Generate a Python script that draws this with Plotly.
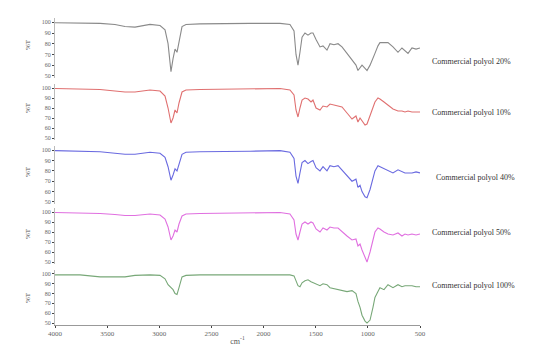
import plotly.graph_objects as go
from plotly.subplots import make_subplots

wavenumber = [4000, 3760, 3568, 3425, 3329, 3233, 3089, 2993, 2945, 2916, 2888, 2868, 2849, 2830, 2811, 2782, 2744,
              2610, 2130, 1842, 1747, 1708, 1689, 1670, 1651, 1631, 1603, 1574, 1545, 1526, 1497, 1459, 1430, 1392,
              1363, 1325, 1286, 1248, 1200, 1152, 1114, 1095, 1075, 1056, 1027, 1008, 979, 951, 932, 903, 884, 845,
              807, 759, 711, 673, 644, 615, 577, 538, 500]

t_20 = [99.5, 99.5, 99, 98, 96, 95.5, 98, 97, 93, 80, 54, 66, 75, 72, 82, 96, 98, 98.5, 99, 99, 98, 92, 70, 60,
        72, 86, 90, 88, 90, 90, 84, 77, 78, 74, 80, 79, 80, 77, 71, 65, 60, 55, 58, 60, 57, 55, 60, 66, 71, 78, 81,
        81, 81, 77, 72, 76, 73, 71, 76, 75, 76]
t_10 = [99.5, 99, 98.5, 97, 96, 96, 98, 97, 92, 80, 65, 70, 78, 75, 85, 96, 98, 98.5, 99, 99.5, 98, 93, 78, 71,
        80, 88, 90, 89, 86, 88, 80, 78, 82, 81, 84, 83, 82, 81, 75, 69, 72, 66, 70, 67, 63, 64, 72, 80, 86, 90, 89,
        86, 83, 79, 77, 77, 76, 77, 76, 76, 76]
t_40 = [99.5, 99, 98.5, 97, 96, 96, 98, 97, 93, 84, 71, 76, 82, 80, 87, 96, 98, 98.5, 99, 99.5, 98, 92, 75, 68,
        78, 88, 90, 87, 89, 90, 83, 80, 84, 80, 85, 84, 85, 81, 76, 70, 72, 64, 66, 60, 55, 54, 62, 72, 80, 85, 84,
        82, 80, 78, 81, 79, 78, 78, 78, 79, 78]
t_50 = [99.5, 99, 98.5, 97.5, 96.5, 96.5, 98, 97, 93, 85, 72, 76, 82, 80, 88, 96, 98, 98.5, 99, 99.5, 98, 92, 78,
        72, 80, 88, 90, 88, 90, 89, 83, 80, 84, 82, 85, 84, 84, 80, 76, 72, 73, 66, 68, 62, 55, 50, 60, 72, 80, 84,
        83, 80, 78, 77, 79, 76, 78, 77, 78, 77, 78]
t_100 = [99, 99, 97, 97, 97, 98.5, 99, 98.5, 95, 89, 86, 84, 80, 79, 86, 97, 98.5, 99, 99, 99, 99, 98, 93, 88,
         87, 91, 93, 94, 92, 91, 90, 88, 90, 89, 86, 85, 84, 83, 82, 83, 80, 72, 66, 58, 52, 50, 53, 66, 76, 82, 86,
         84, 89, 86, 89, 87, 88, 88, 88, 87, 87]

series = [t_20, t_10, t_40, t_50, t_100]
labels = ["Commercial polyol 20%", "Commercial polyol 10%", "Commercial polyol 40%",
          "Commercial polyol 50%", "Commercial polyol 100%"]
colors = ["#8a8a8a", "#e07070", "#6a6ae0", "#e070e0", "#78a878"]
x_ticks = [4000, 3500, 3000, 2500, 2000, 1500, 1000, 500]
y_ticks = [100, 90, 80, 70, 60, 50]

W, H = 534, 347
ML, MR, MT, MB = 55, 114, 18, 22
PH = H - MT - MB
PW = W - ML - MR

# panel pixel extents (top, bottom)
panels = [(18, 78), (84, 140), (146, 204), (208, 264), (270, 325)]
label_y = [62, 112, 177, 232, 285]
label_x = [430, 430, 434, 430, 430]
pct_y = [45, 108, 172, 234, 298]

fig = make_subplots(rows=5, cols=1, shared_xaxes=True, vertical_spacing=0.02)

for i, (vals, col) in enumerate(zip(series, colors)):
    fig.add_trace(go.Scatter(x=wavenumber, y=vals, mode="lines",
                             line=dict(color=col, width=1.1), showlegend=False),
                  row=i + 1, col=1)

for i, (top, bot) in enumerate(panels):
    yname = "yaxis" if i == 0 else f"yaxis{i+1}"
    xname = "xaxis" if i == 0 else f"xaxis{i+1}"
    d0 = (H - MB - bot) / PH
    d1 = (H - MB - top) / PH
    fig.layout[yname].update(domain=[max(0, d0), min(1, d1)], range=[48, 104],
                             tickvals=y_ticks, ticks="outside", ticklen=2, automargin=False,
                             tickfont=dict(size=6, color="#666666", family="Liberation Serif"),
                             showgrid=False, zeroline=False, showline=True,
                             linecolor="#bbbbbb", linewidth=1)
    last = (i == 4)
    fig.layout[xname].update(range=[4000, 500], showgrid=False, zeroline=False, automargin=False,
                             showticklabels=last, showline=last,
                             linecolor="#999999", linewidth=1,
                             tickvals=x_ticks, ticks="outside" if last else "", ticklen=2,
                             tickfont=dict(size=7, color="#666666", family="Liberation Serif"))

fig.layout["xaxis5"].update(title=dict(text="cm<sup>-1</sup>", font=dict(size=8, color="#555555",
                                                                        family="Liberation Serif"),
                                       standoff=0))

for i in range(5):
    fig.add_annotation(text=labels[i], xref="paper", yref="paper",
                       x=(label_x[i] - ML) / PW, y=(H - MB - label_y[i]) / PH,
                       xanchor="left", yanchor="middle", showarrow=False,
                       font=dict(size=8, color="#333333", family="Liberation Serif"))
    fig.add_annotation(text="%T", xref="paper", yref="paper",
                       x=(28 - ML) / PW, y=(H - MB - pct_y[i]) / PH,
                       xanchor="center", yanchor="middle", showarrow=False, textangle=-90,
                       font=dict(size=7, color="#555555", family="Liberation Serif"))

fig.update_layout(width=W, height=H, margin=dict(l=ML, r=MR, t=MT, b=MB),
                  paper_bgcolor="white", plot_bgcolor="white")

fig.write_html("out.html", config={"displayModeBar": False},
               post_script="document.body.style.margin='0';")
